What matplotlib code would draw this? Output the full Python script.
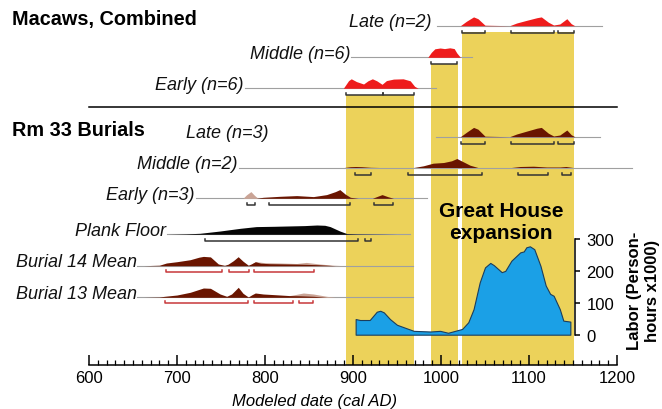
import matplotlib.pyplot as plt
import numpy as np

plt.rcParams['font.family'] = ['Liberation Sans', 'DejaVu Sans']

# x axis: modeled date (cal AD)
year_ticks = [600, 700, 800, 900, 1000, 1100, 1200]

# yellow periods of the great house construction
bands = [(892, 969), (989, 1019), (1024, 1151)]
band_tops = [96, 65, 33]

# labor estimate (person-hours x1000)
labor_years = [903, 908, 919, 927, 931, 935, 942, 950, 969, 988, 999, 1008,
               1016, 1024, 1031, 1037, 1044, 1050, 1056, 1060, 1069, 1073,
               1080, 1090, 1094, 1097, 1101, 1106, 1113, 1119, 1124, 1128,
               1135, 1139, 1147]
labor = [49, 46, 46, 72, 75, 70, 49, 31, 12, 10, 12, 6,
         12, 18, 39, 80, 164, 211, 225, 218, 196, 200,
         232, 258, 261, 274, 277, 268, 216, 154, 128, 122,
         80, 44, 41]

# macaws, late (n=2)
mac_late_x = [1022, 1029, 1037, 1042, 1050, 1078, 1086, 1097, 1109, 1114,
              1122, 1128, 1135, 1143, 1148, 1152]
mac_late_h = [0, 4.5, 8.8, 7, 0.5, 0, 2.7, 5.3, 8, 8.8,
              3.5, 0.7, 1.7, 7, 2, 0]
mac_late_br = [(1024, 1050), (1080, 1128), (1133, 1151)]

# macaws, middle (n=6)
mac_mid_x = [985, 989, 993, 999, 1004, 1010, 1015, 1018, 1022]
mac_mid_h = [0, 5, 8.5, 9.3, 8.7, 9.5, 8.7, 4.3, 0]
mac_mid_br = [(989, 1018)]

# macaws, early (n=6)
mac_early_x = [889, 895, 898, 904, 912, 917, 922, 927, 933, 938, 946, 957,
               965, 970, 974]
mac_early_h = [0, 7.7, 9.5, 6.7, 4.3, 7.5, 9.5, 7.5, 4, 7.7, 9.2, 9.5,
               7.5, 2, 0]
mac_early_br = [(892, 934), (934, 969)]

# rm 33 burials, late (n=3)
rm_late_x = [1022, 1029, 1037, 1042, 1050, 1078, 1086, 1097, 1109, 1114,
             1122, 1128, 1135, 1143, 1148, 1152]
rm_late_h = [0, 4.5, 9.3, 7.5, 0.5, 0, 2.7, 5.5, 8.5, 9.3,
             3.5, 0.7, 1.7, 6.7, 2, 0]
rm_late_br = [(1023, 1050), (1080, 1128), (1133, 1151)]

# rm 33 burials, middle (n=2)
rm_mid_x = [890, 897, 903, 910, 920, 930, 969, 980, 991, 1003, 1012, 1018,
            1024, 1033, 1042, 1080, 1090, 1105, 1120, 1135, 1142, 1150]
rm_mid_h = [0, 0.8, 1, 0.8, 0.2, 0, 0, 1.7, 4.3, 5, 6.7, 9,
            6.3, 2.3, 0, 0, 1, 1.3, 0.5, 0.5, 1, 0]
rm_mid_br = [(902, 920), (962, 1047), (1087, 1122), (1137, 1148)]

# rm 33 burials, early (n=3)
rm_early_x = [790, 798, 817, 836, 855, 870, 880, 885, 891, 897, 906,
              922, 927, 933, 940, 946]
rm_early_h = [0, 1, 2, 2.7, 1.7, 3.7, 6.7, 8.7, 4.3, 1, 0,
              0, 1.7, 3.7, 1.5, 0]
rm_early_pale_x = [775, 779, 784, 788, 792]
rm_early_pale_h = [0, 3.5, 6.7, 3, 0]
rm_early_br = [(780, 789), (805, 897), (924, 945)]

# plank floor
plank_x = [690, 710, 726, 749, 772, 790, 810, 825, 845, 859, 868, 874, 885,
           893, 905, 930, 950]
plank_h = [0, 0.4, 1, 3.3, 6, 7.7, 8, 8.3, 8.7, 9.3, 9, 7.7, 3.3,
           0.7, 0.4, 0.2, 0]
plank_br = [(732, 906), (914, 921)]

# burial 14 mean
b14_x = [662, 680, 688, 700, 715, 725, 730, 738, 747, 754, 758, 764, 769.5,
         775, 781, 785, 789, 795, 805, 820, 840, 860, 880]
b14_h = [0, 0.5, 2.7, 4, 6, 8.5, 9.3, 8.8, 1.7, 0.4, 1.5, 5, 9,
         4.5, 0.5, 2, 4, 2.5, 2, 1.8, 1.5, 1, 0]
b14_pale_x = [785, 790, 800, 817, 836, 847, 862, 878, 890]
b14_pale_h = [2, 4, 3, 2.7, 2.2, 3.3, 1.7, 0.5, 0]
b14_br = [(687, 751), (759, 782), (787, 856)]

# burial 13 mean
b13_x = [662, 680, 686, 700, 715, 730, 738, 749, 756.5, 762, 769.6, 775,
         781, 785, 789, 798, 817, 828, 840, 855, 870]
b13_h = [0, 0.3, 1, 2.3, 5, 9.3, 9, 3.3, 1, 3.3, 10, 4,
         0.3, 2.5, 4.3, 3.3, 2.3, 1.7, 1.5, 1, 0]
b13_pale_x = [828, 836, 843.6, 855, 870, 880]
b13_pale_h = [1.7, 3, 4.3, 3.3, 1, 0]
b13_br = [(686, 781), (787, 832), (839, 854)]

red = '#ee1c1c'
brown = '#6a1500'
pale = '#caa496'
band_col = '#ecd25a'
blue = '#1ba0e6'

# rows: label, label right end, baseline, line span, fills, brackets
rows = [
    ('Late (n=2)', 989, 26.7, (995, 1183), [(mac_late_x, mac_late_h, red)], mac_late_br, '#333333'),
    ('Middle (n=6)', 897, 58.3, (898, 1035), [(mac_mid_x, mac_mid_h, red)], mac_mid_br, '#333333'),
    ('Early (n=6)', 775, 89.3, (777, 994), [(mac_early_x, mac_early_h, red)], mac_early_br, '#333333'),
    ('Late (n=3)', 804, 137.7, (994, 1181), [(rm_late_x, rm_late_h, brown)], rm_late_br, '#333333'),
    ('Middle (n=2)', 769, 168.5, (771, 1217), [(rm_mid_x, rm_mid_h, brown)], rm_mid_br, '#333333'),
    ('Early (n=3)', 720, 199.3, (722, 984), [(rm_early_pale_x, rm_early_pale_h, pale),
                                            (rm_early_x, rm_early_h, brown)], rm_early_br, '#333333'),
    ('Plank Floor', 688, 235.3, (689, 965), [(plank_x, plank_h, '#050505')], plank_br, '#333333'),
    ('Burial 14 Mean', 654, 266.7, (655, 968), [(b14_pale_x, b14_pale_h, pale),
                                               (b14_x, b14_h, brown)], b14_br, '#c8383b'),
    ('Burial 13 Mean', 654, 298.3, (655, 968), [(b13_pale_x, b13_pale_h, pale),
                                               (b13_x, b13_h, brown)], b13_br, '#c8383b'),
]

fig = plt.figure(figsize=(6.62, 4.10), dpi=100)
ax = fig.add_axes([0, 0, 1, 1])
ax.set_xlim(498.86, 1251.14)
ax.set_ylim(410, 0)
ax.patch.set_alpha(0)

axis_y = 365.5
for (a, b), top in zip(bands, band_tops):
    ax.fill_between([a, b], top, axis_y, color=band_col, lw=0, zorder=1)

for label, lx, base, (l0, l1), fills, brs, bcol in rows:
    ax.plot([l0, l1], [base, base], color='#a0a0a0', lw=0.8, zorder=2)
    for xs, hs, col in fills:
        ax.fill_between(xs, base, base - np.array(hs), color=col, lw=0, zorder=3)
    off = 6 if bcol != '#333333' else 7
    for a, b in brs:
        yb = base + off
        ax.plot([a, a, b, b], [yb - 2, yb, yb, yb - 2], color=bcol, lw=1.1, zorder=3)
    ax.text(lx, base + 0.5, label, ha='right', va='baseline', fontsize=13,
            style='italic', color='#111111', zorder=4)

ax.text(512, 20, 'Macaws, Combined', fontsize=14.3, fontweight='bold', va='center', ha='left')
ax.text(512, 131, 'Rm 33 Burials', fontsize=14.3, fontweight='bold', va='center', ha='left')
ax.plot([600, 1200], [108, 108], color='black', lw=1.1, zorder=2)

ax.text(1068, 222.5, 'Great House\nexpansion', fontsize=15, fontweight='bold',
        ha='center', va='center', linespacing=1.15, zorder=5)

for s in ['left', 'right', 'top']:
    ax.spines[s].set_visible(False)
ax.spines['bottom'].set_position(('data', axis_y))
ax.spines['bottom'].set_bounds(600, 1200)
ax.spines['bottom'].set_linewidth(1.1)
ax.set_xticks(year_ticks)
ax.set_xticks(np.arange(600, 1201, 10), minor=True)
ax.tick_params(axis='x', which='major', direction='in', length=7.5, width=1.1,
               labelsize=12, pad=4)
ax.tick_params(axis='x', which='minor', direction='in', length=3.5, width=0.9)
ax.set_yticks([])
ax.text(856, 402, 'Modeled date (cal AD)', fontsize=12, style='italic',
        ha='center', va='center')

ax.text(1230, 291, 'Labor (Person-\nhours x1000)', fontsize=12, fontweight='bold',
        rotation=90, ha='center', va='center', linespacing=1.25,
        multialignment='center')

# labor inset
lab = fig.add_axes([0, (410 - 345) / 410, 1, 115 / 410])
lab.set_xlim(498.86, 1251.14)
lab.set_ylim(-29.2, 331.3)
lab.patch.set_alpha(0)
lab.fill_between(labor_years, 0, labor, facecolor=blue, edgecolor='#1b3d5c',
                 lw=0.8, zorder=3)
for s in ['left', 'top', 'bottom']:
    lab.spines[s].set_visible(False)
lab.spines['right'].set_position(('data', 1152))
lab.spines['right'].set_bounds(0, 300)
lab.spines['right'].set_linewidth(1.1)
lab.yaxis.tick_right()
lab.set_yticks([0, 100, 200, 300])
lab.tick_params(axis='y', direction='out', length=3.5, width=1.1, labelsize=12, pad=5)
lab.set_xticks([])

fig.savefig('out.png', dpi=100)
